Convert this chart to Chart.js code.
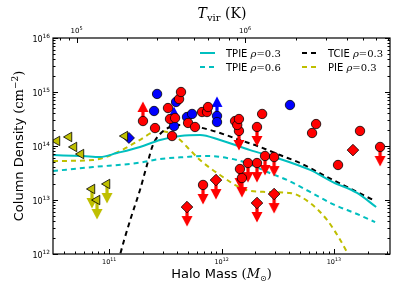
<!DOCTYPE html>
<html>
<head>
<meta charset="utf-8">
<script src="https://cdn.jsdelivr.net/npm/chart.js@4.4.1/dist/chart.umd.min.js"></script>
<style>
  html, body { margin: 0; padding: 0; background: #fff; }
  canvas { display: block; }
</style>
</head>
<body>
<canvas id="chart" width="399" height="299"></canvas>
<script>
// halo mass in Msun, column density in cm^-2

// model curves
const tpie03Mass = [3.16e10, 5.85e10, 8.3e10, 1.17e11, 1.88e11, 2.84e11, 4.28e11, 6.44e11, 9.7e11, 1.8e12, 3.13e12, 6.15e12, 9.8e12, 1.61e13, 2.38e13];
const tpie03N = [6.8e13, 6.5e13, 6.25e13, 7.4e13, 9.6e13, 1.29e14, 1.53e14, 1.6e14, 1.29e14, 8.4e13, 6.0e13, 3.6e13, 2.15e13, 1.35e13, 7.4e12];

const tpie06Mass = [3.16e10, 7.2e10, 1.77e11, 2.84e11, 4.73e11, 7.15e11, 1.12e12, 1.69e12, 2.55e12, 3.84e12, 6.15e12, 9.8e12, 1.61e13, 2.33e13];
const tpie06N = [3.44e13, 4.08e13, 4.84e13, 5.74e13, 6.25e13, 6.53e13, 6.0e13, 4.84e13, 3.3e13, 2.34e13, 1.41e13, 8.4e12, 5.5e12, 3.9e12];

const tcie03Mass = [1.2e11, 1.36e11, 1.57e11, 1.88e11, 2.17e11, 2.45e11, 2.84e11, 3.48e11, 4.28e11, 5.58e11, 7.9e11, 9.7e11, 1.46e12, 2.2e12, 3.32e12, 5.0e12, 8.7e12, 1.31e13, 2.24e13];
const tcie03N = [7.1e11, 1.82e12, 4.84e12, 1.53e13, 4.45e13, 1.04e14, 1.67e14, 2.25e14, 2.45e14, 2.34e14, 1.98e14, 1.74e14, 1.29e14, 9.6e13, 6.8e13, 4.84e13, 2.67e13, 1.74e13, 1.0e13];

const pie03Mass = [3.16e10, 7.18e10, 1.2e11, 1.81e11, 2.72e11, 3.48e11, 4.28e11, 5.25e11, 6.44e11, 9.7e11, 1.56e12, 2.44e12, 4.08e12, 6.15e12, 8.7e12, 1.14e13, 1.4e13];
const pie03N = [5.27e13, 5.5e13, 7.74e13, 1.24e14, 1.9e14, 1.74e14, 1.29e14, 8.4e13, 5.5e13, 2.9e13, 1.6e13, 1.41e13, 1.35e13, 8.8e12, 4.27e12, 1.82e12, 8.4e11];

// observations
const redMass = [2.56e11, 3.63e11, 3.34e11, 3.48e11, 3.86e11, 4.19e11, 4.36e11, 5.04e11, 5.81e11, 6.71e11, 7.43e11, 7.59e11, 1.32e12, 1.38e12, 1.43e12, 2.3e12, 6.95e12, 6.4e12, 1.71e13, 1.09e13];
const redN = [2.15e14, 1.53e14, 5.05e14, 3.16e14, 3.3e14, 7.4e14, 1.0e15, 2.67e14, 2.25e14, 4.26e14, 4.26e14, 5.27e14, 2.9e14, 2.45e14, 3.16e14, 3.92e14, 2.55e14, 1.74e14, 1.9e14, 4.45e13];

const redUpperMass = [1.43e12, 2.07e12, 2.44e12, 2.94e12, 1.72e12, 2.07e12, 1.46e12, 1.52e12, 6.85e11, 2.58e13];
const redUpperN = [1.9e14, 2.25e14, 6.53e13, 6.25e13, 4.84e13, 4.84e13, 3.75e13, 2.55e13, 1.9e13, 9.6e13];

const redLowerMass = [2.0e11];
const redLowerN = [2.9e14];

const redDiamondUpperMass = [8.93e11, 2.07e12, 2.94e12, 4.93e11];
const redDiamondUpperN = [2.34e13, 8.8e12, 1.29e13, 7.4e12];

const redDiamondMass = [1.48e13];
const redDiamondN = [8.4e13];

const blueMass = [2.67e11, 2.51e11, 3.94e11, 4.93e11, 5.47e11, 4.07e12, 9.12e11];
const blueN = [9.2e14, 4.45e14, 6.53e14, 3.44e14, 3.92e14, 5.74e14, 2.78e14];

const blueLowerMass = [3.78e11, 9.12e11];
const blueLowerN = [2.34e14, 3.6e14];

const blueDiamondMass = [1.5e11];
const blueDiamondN = [1.41e14];

const yellowMass = [3.43e10, 4.39e10, 4.86e10, 5.61e10, 1.38e11];
const yellowN = [1.24e14, 1.47e14, 9.6e13, 7.1e13, 1.53e14];

const yellowUpperMass = [7.03e10, 7.8e10, 9.57e10];
const yellowUpperN = [1.6e13, 1.0e13, 1.98e13];

// axes
const massMin = 3.162e10, massMax = 3.162e13;
const colMin = 1e12, colMax = 1e16;
const massTicks = [1e11, 1e12, 1e13];
const colTicks = [1e12, 1e13, 1e14, 1e15, 1e16];
const tvirTicks = [1e5, 1e6];
// virial temperature vs halo mass: T = tvirRef * (M / tvirRefMass)^(2/3)
const tvirRef = 1e5, tvirRefMass = 5.13e10;

function pts(xs, ys) {
    return xs.map((x, i) => ({ x: x, y: ys[i] }));
}

// arrow glyph for limits; the tail sits at the point, tip 19px away
function makeArrow(color) {
    const c = document.createElement('canvas');
    c.width = 12;
    c.height = 40;
    const g = c.getContext('2d');
    g.fillStyle = color;
    g.fillRect(4.4, 20, 3.2, 10);
    g.beginPath();
    g.moveTo(0.5, 29);
    g.lineTo(11.5, 29);
    g.lineTo(6, 39.5);
    g.closePath();
    g.fill();
    return c;
}
const redArrow = makeArrow('#ff0000');
const blueArrow = makeArrow('#0000ff');
const yellowArrow = makeArrow('#bfbf00');

function curve(label, xs, ys, color, dash) {
    return {
        label: label, data: pts(xs, ys), showLine: true, borderColor: color, backgroundColor: color,
        borderWidth: 2, borderDash: dash, pointRadius: 0, cubicInterpolationMode: 'monotone',
        clip: 0, order: 10
    };
}
function markers(xs, ys, style, fill, radius, rotation, order) {
    return {
        data: pts(xs, ys), pointStyle: style, pointRadius: radius, pointRotation: rotation || 0,
        backgroundColor: fill, borderColor: '#000', borderWidth: 0.8, order: order || 2
    };
}
function arrows(xs, ys, img, up) {
    return {
        data: pts(xs, ys), pointStyle: img, pointRadius: 6, pointRotation: up ? 180 : 0, order: 5
    };
}

const datasets = [
    curve('TPIE \u03c1=0.3', tpie03Mass, tpie03N, '#00bfbf', []),
    curve('TCIE \u03c1=0.3', tcie03Mass, tcie03N, '#000000', [5, 4]),
    curve('TPIE \u03c1=0.6', tpie06Mass, tpie06N, '#00bfbf', [5, 4]),
    curve('PIE \u03c1=0.3', pie03Mass, pie03N, '#bfbf00', [5, 4]),
    arrows(redUpperMass, redUpperN, redArrow, false),
    arrows(redDiamondUpperMass, redDiamondUpperN, redArrow, false),
    arrows(redLowerMass, redLowerN, redArrow, true),
    arrows(blueLowerMass, blueLowerN, blueArrow, true),
    arrows(yellowUpperMass, yellowUpperN, yellowArrow, false),
    markers(blueDiamondMass, blueDiamondN, 'rectRot', '#0000ff', 5.5),
    markers(redMass, redN, 'circle', '#ff0000', 4.7),
    markers(redUpperMass, redUpperN, 'circle', '#ff0000', 4.7),
    markers(redLowerMass, redLowerN, 'circle', '#ff0000', 4.7),
    markers(redDiamondUpperMass, redDiamondUpperN, 'rectRot', '#ff0000', 5.8),
    markers(redDiamondMass, redDiamondN, 'rectRot', '#ff0000', 5.8),
    markers(blueMass, blueN, 'circle', '#0000ff', 4.7),
    markers(blueLowerMass, blueLowerN, 'circle', '#0000ff', 4.7),
    markers(yellowMass, yellowN, 'triangle', '#bfbf00', 5.5, -90, 1),
    markers(yellowUpperMass, yellowUpperN, 'triangle', '#bfbf00', 5.5, -90, 1)
];

const SANS = '"DejaVu Sans", sans-serif';
const SERIF = '"DejaVu Serif", serif';

function drawRuns(ctx, runs, x, y, align) {
    let total = 0;
    runs.forEach(r => { ctx.font = r[1]; total += ctx.measureText(r[0]).width; });
    let cx = align === 'center' ? x - total / 2 : x;
    ctx.textAlign = 'left';
    ctx.textBaseline = 'alphabetic';
    runs.forEach(r => {
        ctx.font = r[1];
        ctx.fillText(r[0], cx, y + (r[2] || 0));
        cx += ctx.measureText(r[0]).width;
    });
}

function drawPow(ctx, value, x, y, size, align) {
    const exp = String(Math.round(Math.log10(value)));
    const runs = [['10', size + 'px ' + SANS], [exp, (size * 0.72).toFixed(1) + 'px ' + SANS, -size * 0.45]];
    let total = 0;
    runs.forEach(r => { ctx.font = r[1]; total += ctx.measureText(r[0]).width; });
    drawRuns(ctx, runs, align === 'right' ? x - total : x - total / 2, y, 'left');
}

function logMinors(lo, hi) {
    const out = [];
    for (let e = Math.floor(Math.log10(lo)); e <= Math.ceil(Math.log10(hi)); e++) {
        for (let m = 1; m <= 9; m++) {
            const v = m * Math.pow(10, e);
            if (v >= lo * 0.999 && v <= hi * 1.001) out.push({ v: v, major: m === 1 });
        }
    }
    return out;
}

const decorations = {
    id: 'decorations',
    afterDraw(chart) {
        const ctx = chart.ctx;
        const a = chart.chartArea;
        const xs = chart.scales.x, ys = chart.scales.y;
        ctx.save();
        ctx.strokeStyle = '#000';
        ctx.fillStyle = '#000';
        ctx.lineWidth = 1;
        const line = (x1, y1, x2, y2) => { ctx.beginPath(); ctx.moveTo(x1, y1); ctx.lineTo(x2, y2); ctx.stroke(); };

        // ticks, pointing inward
        logMinors(massMin, massMax).forEach(t => {
            const px = Math.round(xs.getPixelForValue(t.v)) + 0.5;
            line(px, a.bottom, px, a.bottom - (t.major ? 5 : 2.5));
        });
        logMinors(colMin, colMax).forEach(t => {
            const py = Math.round(ys.getPixelForValue(t.v)) + 0.5;
            const len = t.major ? 5 : 2.5;
            line(a.left, py, a.left + len, py);
            line(a.right, py, a.right - len, py);
        });
        const tLo = tvirRef * Math.pow(massMin / tvirRefMass, 2 / 3);
        const tHi = tvirRef * Math.pow(massMax / tvirRefMass, 2 / 3);
        const tvirPixel = t => xs.getPixelForValue(tvirRefMass * Math.pow(t / tvirRef, 1.5));
        logMinors(tLo, tHi).forEach(t => {
            const px = Math.round(tvirPixel(t.v)) + 0.5;
            line(px, a.top, px, a.top + (t.major ? 5 : 2.5));
        });

        // frame
        ctx.lineWidth = 1.2;
        ctx.strokeRect(a.left, a.top, a.right - a.left, a.bottom - a.top);

        // tick labels
        colTicks.forEach(v => drawPow(ctx, v, a.left - 3, ys.getPixelForValue(v) + 4, 8, 'right'));
        massTicks.forEach(v => drawPow(ctx, v, xs.getPixelForValue(v), a.bottom + 10, 6.5, 'center'));
        tvirTicks.forEach(v => drawPow(ctx, v, tvirPixel(v), a.top - 5, 7, 'center'));

        // axis titles
        drawRuns(ctx, [
            ['Halo Mass ', '13px ' + SANS],
            ['(', '13px ' + SERIF],
            ['M', 'italic 13px ' + SERIF],
            ['\u2299', '8px ' + SANS, 3],
            [')', '13px ' + SERIF]
        ], (a.left + a.right) / 2, 278, 'center');
        drawRuns(ctx, [
            ['T', 'italic 14px ' + SERIF],
            ['vir', '10px ' + SERIF, 3],
            [' (K)', '14px ' + SERIF]
        ], 222, 18, 'center');
        ctx.save();
        ctx.translate(23, (a.top + a.bottom) / 2);
        ctx.rotate(-Math.PI / 2);
        drawRuns(ctx, [
            ['Column Density ', '13px ' + SANS],
            ['(cm', '13px ' + SERIF],
            ['\u22122', '9px ' + SERIF, -5],
            [')', '13px ' + SERIF]
        ], 0, 0, 'center');
        ctx.restore();

        // legend
        const slots = [[200, 53], [302, 53], [200, 67], [302, 67]];
        slots.forEach((s, i) => {
            const ds = chart.data.datasets[i];
            ctx.save();
            ctx.strokeStyle = ds.borderColor;
            ctx.lineWidth = ds.borderWidth;
            ctx.setLineDash(ds.borderDash);
            line(s[0], s[1], s[0] + 15, s[1]);
            ctx.restore();
            const parts = ds.label.split(' ');
            const val = parts[1].split('=');
            drawRuns(ctx, [
                [parts[0] + ' ', '10px ' + SANS],
                [val[0], 'italic 10px ' + SERIF],
                ['=' + val[1], '10px ' + SERIF]
            ], s[0] + 26, s[1] + 3.5, 'left');
        });
        ctx.restore();
    }
};

new Chart(document.getElementById('chart'), {
    type: 'scatter',
    data: { datasets: datasets },
    options: {
        responsive: false,
        animation: false,
        devicePixelRatio: 1,
        layout: { padding: { left: 53, right: 9, top: 38, bottom: 45 } },
        plugins: { legend: { display: false }, tooltip: { enabled: false } },
        scales: {
            x: { type: 'logarithmic', min: massMin, max: massMax, display: false },
            y: { type: 'logarithmic', min: colMin, max: colMax, display: false }
        }
    },
    plugins: [decorations]
});
</script>
</body>
</html>
